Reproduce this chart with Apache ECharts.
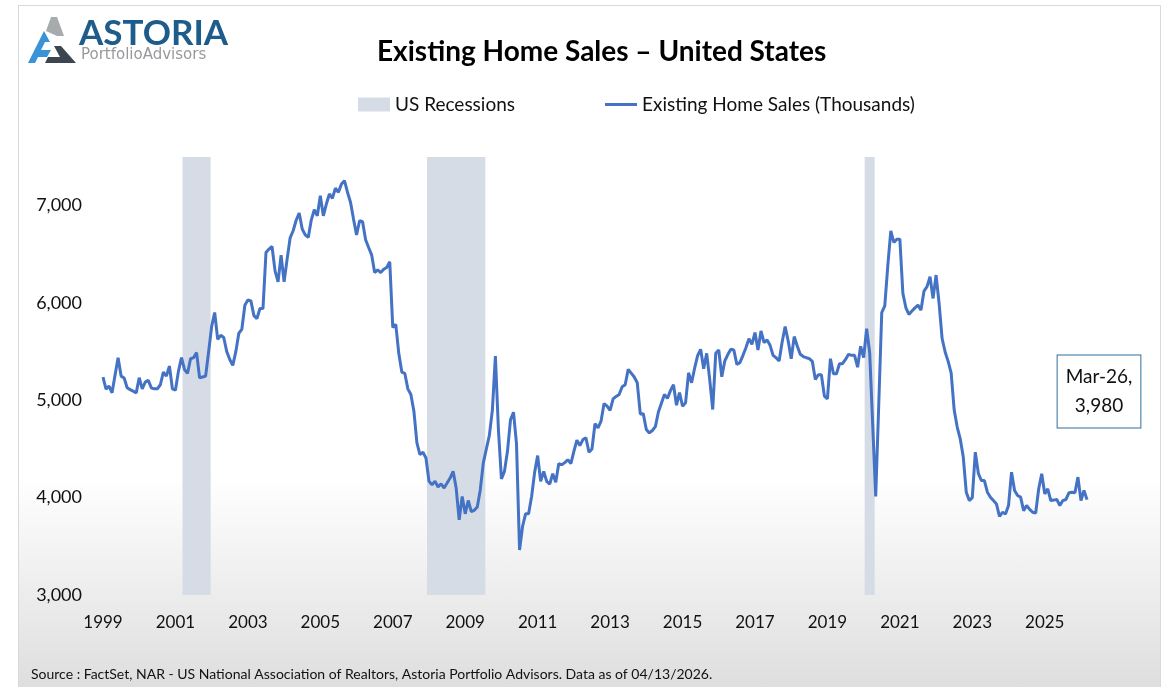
<!DOCTYPE html>
<html>
<head>
<meta charset="utf-8">
<title>Existing Home Sales – United States</title>
<script src="https://cdn.jsdelivr.net/npm/echarts@6/dist/echarts.min.js"></script>
<style>
html, body { margin: 0; padding: 0; background: #fff; }
#frame {
  position: absolute; left: 18px; top: 5px; width: 1141px; height: 700px;
  border: 1px solid #d9d9d9;
  background: linear-gradient(to bottom, #fff 0px, #fff 470px, #dedede 682px);
}
#chart { position: absolute; left: 0; top: 0; width: 1168px; height: 687px; }
</style>
</head>
<body>
<div id="frame"></div>
<div id="chart"></div>
<script>
// monthly existing home sales, SAAR, thousands (Jan 1999 - Mar 2026)
var startYear = 1999;
var homeSales = [
  5238, 5115, 5146, 5077, 5260, 5438, 5249, 5230, 5129, 5110, 5094, 5077, // 1999
  5232, 5118, 5187, 5207, 5128, 5118, 5118, 5160, 5290, 5249, 5352, 5118, // 2000
  5104, 5300, 5438, 5317, 5276, 5427, 5438, 5490, 5232, 5240, 5250, 5500, // 2001
  5760, 5902, 5627, 5668, 5645, 5500, 5420, 5359, 5500, 5689, 5730, 5977, // 2002
  6032, 6022, 5870, 5840, 5943, 5943, 6520, 6554, 6581, 6330, 6217, 6492, // 2003
  6217, 6451, 6670, 6742, 6850, 6924, 6760, 6700, 6674, 6852, 6958, 6896, // 2004
  7102, 6896, 7017, 7120, 7076, 7179, 7138, 7223, 7257, 7138, 7035, 6862, // 2005
  6698, 6845, 6835, 6650, 6570, 6495, 6313, 6341, 6313, 6347, 6365, 6423, // 2006
  5750, 5780, 5480, 5290, 5276, 5118, 5060, 4888, 4562, 4442, 4466, 4408, // 2007
  4168, 4133, 4168, 4110, 4143, 4099, 4150, 4202, 4270, 4099, 3772, 4012, // 2008
  3834, 3971, 3858, 3870, 3905, 4082, 4357, 4500, 4640, 4900, 5455, 4700, // 2009
  4192, 4270, 4476, 4800, 4878, 4550, 3463, 3704, 3834, 3834, 4012, 4260, // 2010
  4432, 4168, 4270, 4168, 4140, 4247, 4157, 4350, 4339, 4360, 4390, 4349, // 2011
  4476, 4590, 4535, 4597, 4614, 4466, 4500, 4761, 4717, 4786, 4967, 4940, // 2012
  4898, 5015, 5040, 5060, 5139, 5160, 5318, 5280, 5240, 5180, 4860, 4861, // 2013
  4700, 4665, 4690, 4730, 4880, 4970, 5060, 5020, 5100, 5160, 4950, 5080, // 2014
  4940, 4974, 5283, 5180, 5330, 5460, 5524, 5324, 5483, 5215, 4906, 5483, // 2015
  5517, 5242, 5404, 5470, 5524, 5517, 5369, 5387, 5460, 5541, 5634, 5575, // 2016
  5696, 5517, 5713, 5593, 5620, 5565, 5462, 5438, 5404, 5600, 5757, 5610, // 2017
  5428, 5655, 5559, 5473, 5450, 5438, 5428, 5400, 5215, 5263, 5263, 5043, // 2018
  5015, 5428, 5273, 5273, 5376, 5376, 5420, 5473, 5462, 5462, 5340, 5555, // 2019
  5440, 5737, 5490, 4750, 4012, 4950, 5902, 5971, 6382, 6742, 6622, 6656, // 2020
  6656, 6099, 5951, 5883, 5917, 5950, 5978, 5927, 6123, 6168, 6270, 6047, // 2021
  6287, 5995, 5635, 5497, 5400, 5280, 4900, 4725, 4605, 4420, 4056, 3970, // 2022
  4000, 4468, 4250, 4176, 4176, 4056, 4005, 3970, 3936, 3808, 3850, 3833, // 2023
  3919, 4262, 4074, 4022, 4005, 3867, 3919, 3880, 3850, 3843, 4091, 4245, // 2024
  4039, 4091, 3970, 3975, 3981, 3919, 3970, 3981, 4050, 4056, 4050, 4211, // 2025
  3970, 4074, 3980                                                        // 2026
];
// recession months (first, last)
var recessions = [
  ['2001-04', '2001-12'],
  ['2008-01', '2009-07'],
  ['2020-02', '2020-04']
];
var lastLabel = 'Mar-26';
var yMin = 3000, yMax = 7500, yStep = 1000;

var font = 'Lato, "Open Sans", sans-serif';
var fmt = function (v) { return Number(v).toLocaleString('en-US'); };

var months = homeSales.map(function (v, i) {
  var y = startYear + Math.floor(i / 12);
  var m = (i % 12) + 1;
  return y + '-' + (m < 10 ? '0' + m : m);
});
var recessionBars = months.map(function (m) {
  for (var k = 0; k < recessions.length; k++) {
    if (m >= recessions[k][0] && m <= recessions[k][1]) return yMax;
  }
  return '-';
});
var last = homeSales.length - 1;

var chart = echarts.init(document.getElementById('chart'), null, { renderer: 'canvas' });
chart.setOption({
  backgroundColor: 'transparent',
  animation: false,
  textStyle: { fontFamily: font },
  title: {
    text: 'Existing Home Sales – United States',
    left: 372,
    top: 33,
    textStyle: { fontFamily: font, fontSize: 28, fontWeight: 'bold', color: '#000' }
  },
  legend: {
    left: 353,
    top: 90,
    itemWidth: 32,
    itemHeight: 14,
    itemGap: 90,
    symbolKeepAspect: true,
    textStyle: { fontFamily: font, fontSize: 19, color: '#111' },
    data: [
      { name: 'US Recessions', icon: 'rect' },
      { name: 'Existing Home Sales (Thousands)', icon: 'path://M0,0L32,0L32,3L0,3Z', itemStyle: { color: '#4472C4' } }
    ]
  },
  grid: { left: 103, right: 81, top: 157, bottom: 92 },
  xAxis: {
    type: 'category',
    data: months,
    boundaryGap: false,
    axisLine: { show: false },
    axisTick: { show: false },
    splitLine: { show: false },
    axisLabel: {
      interval: function (i) { return i % 24 === 0; },
      formatter: function (v) { return v.slice(0, 4); },
      margin: 19,
      fontFamily: font,
      fontSize: 17,
      color: '#111'
    }
  },
  yAxis: {
    type: 'value',
    min: yMin,
    max: yMax,
    interval: yStep,
    axisLine: { show: false },
    axisTick: { show: false },
    splitLine: { show: false },
    axisLabel: {
      showMaxLabel: false,
      formatter: fmt,
      margin: 21,
      fontFamily: font,
      fontSize: 18,
      color: '#111'
    }
  },
  series: [
    {
      name: 'US Recessions',
      type: 'bar',
      data: recessionBars,
      barWidth: 4,
      clip: true,
      silent: true,
      z: 1,
      itemStyle: { color: '#D6DCE5' }
    },
    {
      name: 'Existing Home Sales (Thousands)',
      type: 'line',
      data: homeSales,
      symbol: 'none',
      z: 3,
      lineStyle: { color: '#4472C4', width: 3 },
      itemStyle: { color: '#4472C4' },
      markPoint: {
        symbol: 'rect',
        symbolSize: 1,
        itemStyle: { color: 'rgba(0,0,0,0)' },
        data: [{ coord: [months[last], homeSales[last]] }],
        label: {
          show: true,
          position: 'inside',
          offset: [12, -108],
          formatter: function () { return lastLabel + ',\n' + fmt(homeSales[last]); },
          backgroundColor: '#fff',
          borderColor: '#2e6f9e',
          borderWidth: 1,
          padding: [7, 8, 7, 8],
          lineHeight: 29,
          fontSize: 19,
          fontFamily: font,
          color: '#111',
          align: 'center'
        }
      }
    }
  ],
  graphic: [
    // logo mark
    { type: 'polygon', shape: { points: [[46, 31], [51, 17], [57, 17], [64, 36], [57, 36]] }, style: { fill: '#a7abae' } },
    { type: 'polygon', shape: { points: [[28, 63], [44, 31], [50, 42], [45, 42], [41, 50], [51, 50], [47, 57], [38, 57], [35, 63]] }, style: { fill: '#3a93d6' } },
    { type: 'polygon', shape: { points: [[48, 57], [60, 57], [54, 46], [61, 46], [76, 63], [45, 63]] }, style: { fill: '#3c4650' } },
    { type: 'text', left: 79, top: 16, style: { text: 'ASTORIA', fontFamily: font, fontSize: 35, fontWeight: 'bold', fill: '#1d5c8b' } },
    { type: 'text', left: 81, top: 48, style: { text: 'PortfolioAdvisors', fontFamily: '"DejaVu Sans", sans-serif', fontSize: 15, fill: '#97999c' } },
    // source note
    {
      type: 'text', left: 31, top: 667,
      style: {
        text: 'Source : FactSet, NAR - US National Association of Realtors, Astoria Portfolio Advisors. Data as of 04/13/2026.',
        fontFamily: font, fontSize: 14, fill: '#111'
      }
    }
  ]
});
</script>
</body>
</html>
